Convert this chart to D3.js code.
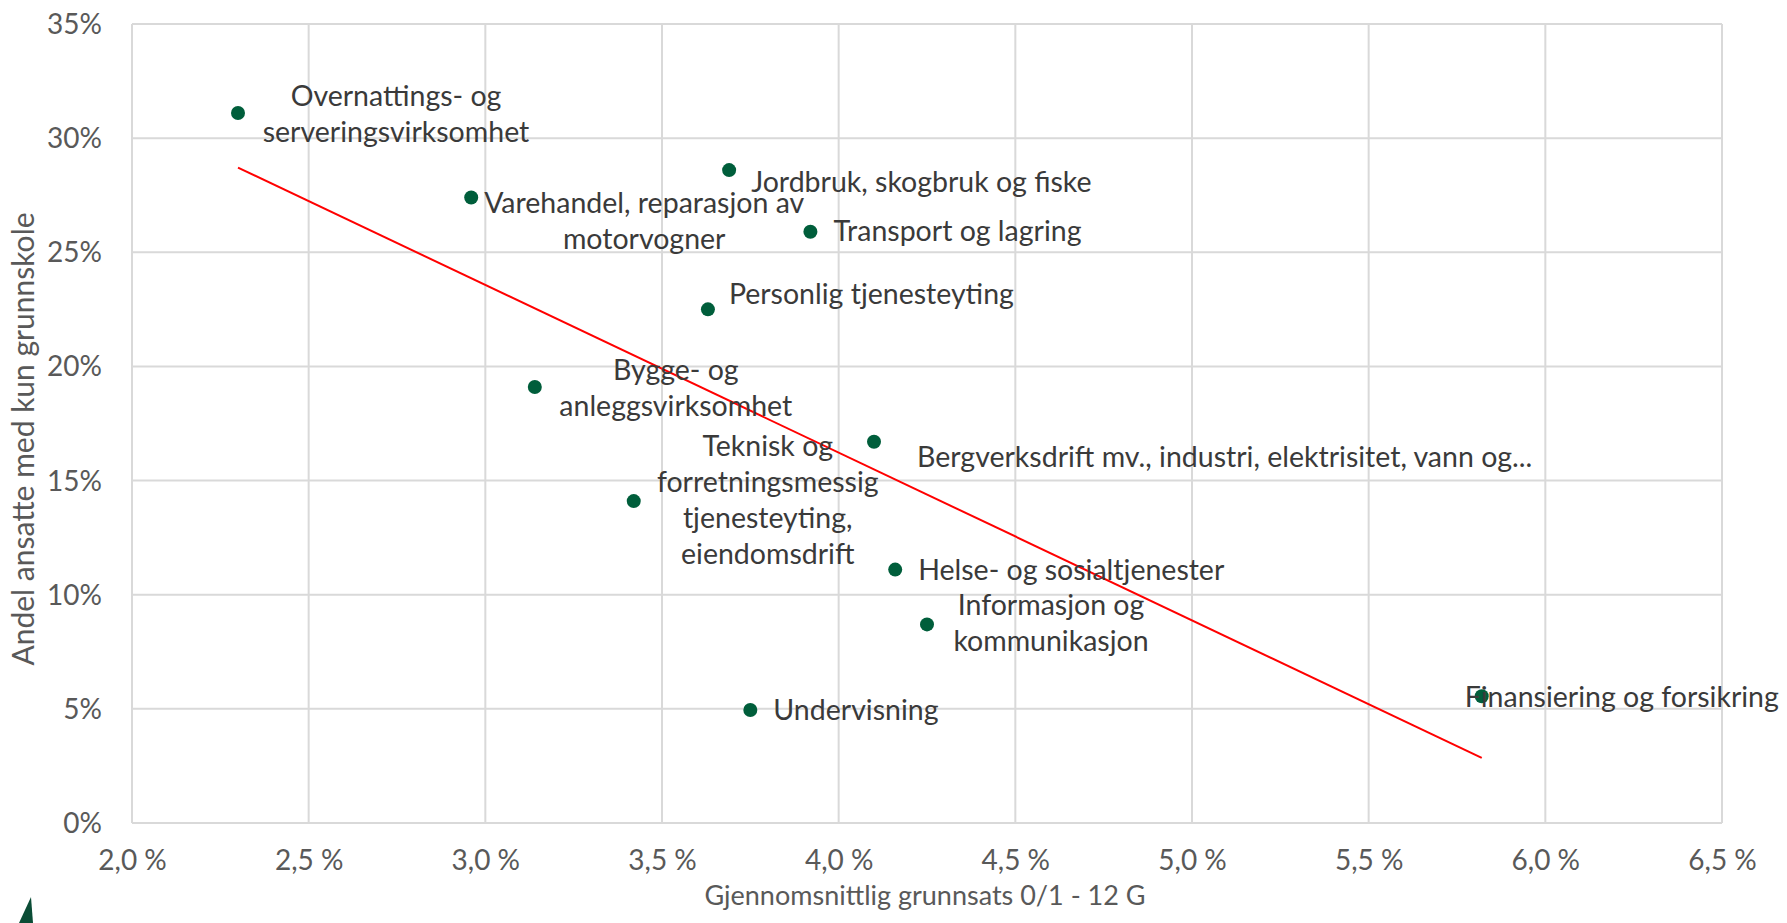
<!DOCTYPE html>
<html>
<head>
<meta charset="utf-8">
<script src="https://cdn.jsdelivr.net/npm/d3@7"></script>
<style>
  body { margin: 0; background: #fff; }
  svg text { font-family: Lato, "Liberation Sans", sans-serif; }
</style>
</head>
<body>
<div id="chart"></div>
<script>
// Næringer: grunnsats (x) mot andel ansatte med kun grunnskole (y)
const categories = [
    "Overnattings- og serveringsvirksomhet",
    "Varehandel, reparasjon av motorvogner",
    "Jordbruk, skogbruk og fiske",
    "Transport og lagring",
    "Personlig tjenesteyting",
    "Bygge- og anleggsvirksomhet",
    "Teknisk og forretningsmessig tjenesteyting, eiendomsdrift",
    "Bergverksdrift mv., industri, elektrisitet, vann og...",
    "Helse- og sosialtjenester",
    "Informasjon og kommunikasjon",
    "Undervisning",
    "Finansiering og forsikring"
];
const grunnsats = [2.30, 2.96, 3.69, 3.92, 3.63, 3.14, 3.42, 4.10, 4.16, 4.25, 3.75, 5.82];
const andelGrunnskole = [31.1, 27.4, 28.6, 25.9, 22.5, 19.1, 14.1, 16.7, 11.1, 8.7, 4.95, 5.55];

const xTicks = [2.0, 2.5, 3.0, 3.5, 4.0, 4.5, 5.0, 5.5, 6.0, 6.5];
const yTicks = [0, 5, 10, 15, 20, 25, 30, 35];

// Label lines as Excel wrapped them
const labelLines = [
    ["Overnattings- og", "serveringsvirksomhet"],
    ["Varehandel, reparasjon av", "motorvogner"],
    ["Jordbruk, skogbruk og fiske"],
    ["Transport og lagring"],
    ["Personlig tjenesteyting"],
    ["Bygge- og", "anleggsvirksomhet"],
    ["Teknisk og", "forretningsmessig", "tjenesteyting,", "eiendomsdrift"],
    ["Bergverksdrift mv., industri, elektrisitet, vann og..."],
    ["Helse- og sosialtjenester"],
    ["Informasjon og", "kommunikasjon"],
    ["Undervisning"],
    ["Finansiering og forsikring"]
];
// label placement relative to the point: [dx, dy, anchor]
const labelOffsets = [
    [158, -7, "middle"],
    [173, 16, "middle"],
    [22, 22, "start"],
    [23, 9, "start"],
    [21, -5, "start"],
    [141, -7, "middle"],
    [134, -45, "middle"],
    [43, 25, "start"],
    [23, 10, "start"],
    [124, -9, "middle"],
    [23, 10, "start"],
    [-17, 11, "start"]
];

const W = 1787, H = 923;
const margin = { top: 24, right: 65, bottom: 100, left: 132 };
const width = W - margin.left - margin.right;
const height = H - margin.top - margin.bottom;

const svg = d3.select("#chart").append("svg")
    .attr("width", W)
    .attr("height", H);

const g = svg.append("g")
    .attr("transform", "translate(" + margin.left + "," + margin.top + ")");

const x = d3.scaleLinear().domain([2.0, 6.5]).range([0, width]);
const y = d3.scaleLinear().domain([0, 35]).range([height, 0]);

// gridlines
g.selectAll(".vgrid").data(xTicks).enter().append("line")
    .attr("x1", d => x(d)).attr("x2", d => x(d))
    .attr("y1", 0).attr("y2", height)
    .attr("stroke", "#d9d9d9").attr("stroke-width", 2);
g.selectAll(".hgrid").data(yTicks).enter().append("line")
    .attr("x1", 0).attr("x2", width)
    .attr("y1", d => y(d)).attr("y2", d => y(d))
    .attr("stroke", "#d9d9d9").attr("stroke-width", 2);

// axes (labels only, Excel style)
const xAxis = d3.axisBottom(x).tickValues(xTicks).tickSize(0).tickPadding(0)
    .tickFormat(d => d3.format(".1f")(d).replace(".", ",") + " %");
const xg = g.append("g").attr("transform", "translate(0," + height + ")").call(xAxis);
xg.select(".domain").remove();
xg.selectAll("text")
    .attr("y", 47).attr("dy", null)
    .attr("fill", "#595959").style("font-size", "28px");

const yAxis = d3.axisLeft(y).tickValues(yTicks).tickSize(0).tickPadding(0)
    .tickFormat(d => d + "%");
const yg = g.append("g").call(yAxis);
yg.select(".domain").remove();
yg.selectAll("text")
    .attr("x", -30).attr("dy", "0.34em")
    .attr("fill", "#595959").style("font-size", "28px");

// trendline (least squares)
const mx = d3.mean(grunnsats), my = d3.mean(andelGrunnskole);
const slope = d3.sum(grunnsats, (v, i) => (v - mx) * (andelGrunnskole[i] - my)) /
    d3.sum(grunnsats, v => (v - mx) * (v - mx));
const intercept = my - slope * mx;
const xExt = d3.extent(grunnsats);
g.append("line")
    .attr("x1", x(xExt[0])).attr("y1", y(intercept + slope * xExt[0]))
    .attr("x2", x(xExt[1])).attr("y2", y(intercept + slope * xExt[1]))
    .attr("stroke", "#ff0000").attr("stroke-width", 2);

// points
g.selectAll(".dot").data(categories).enter().append("circle")
    .attr("cx", (d, i) => x(grunnsats[i]))
    .attr("cy", (d, i) => y(andelGrunnskole[i]))
    .attr("r", 7)
    .attr("fill", "#005e3b");

// data labels
const lbl = g.selectAll(".lbl").data(categories).enter().append("text")
    .attr("x", (d, i) => x(grunnsats[i]) + labelOffsets[i][0])
    .attr("y", (d, i) => y(andelGrunnskole[i]) + labelOffsets[i][1])
    .attr("text-anchor", (d, i) => labelOffsets[i][2])
    .attr("fill", "#3a3a3a")
    .style("font-size", "28.5px");
lbl.each(function(d, i) {
    const t = d3.select(this);
    labelLines[i].forEach((line, j) => {
        t.append("tspan")
            .attr("x", x(grunnsats[i]) + labelOffsets[i][0])
            .attr("dy", j === 0 ? 0 : 36)
            .text(line);
    });
});

// axis titles
svg.append("text")
    .attr("x", 925).attr("y", 905)
    .attr("text-anchor", "middle")
    .attr("fill", "#595959")
    .style("font-size", "27px")
    .text("Gjennomsnittlig grunnsats 0/1 - 12 G");

svg.append("text")
    .attr("transform", "translate(34,439) rotate(-90)")
    .attr("text-anchor", "middle")
    .attr("fill", "#595959")
    .style("font-size", "30px")
    .text("Andel ansatte med kun grunnskole");

// cropped logo corner at bottom left
svg.append("path")
    .attr("d", "M19,923 L31,897 L33,923 Z")
    .attr("fill", "#0b4d36");
</script>
</body>
</html>
